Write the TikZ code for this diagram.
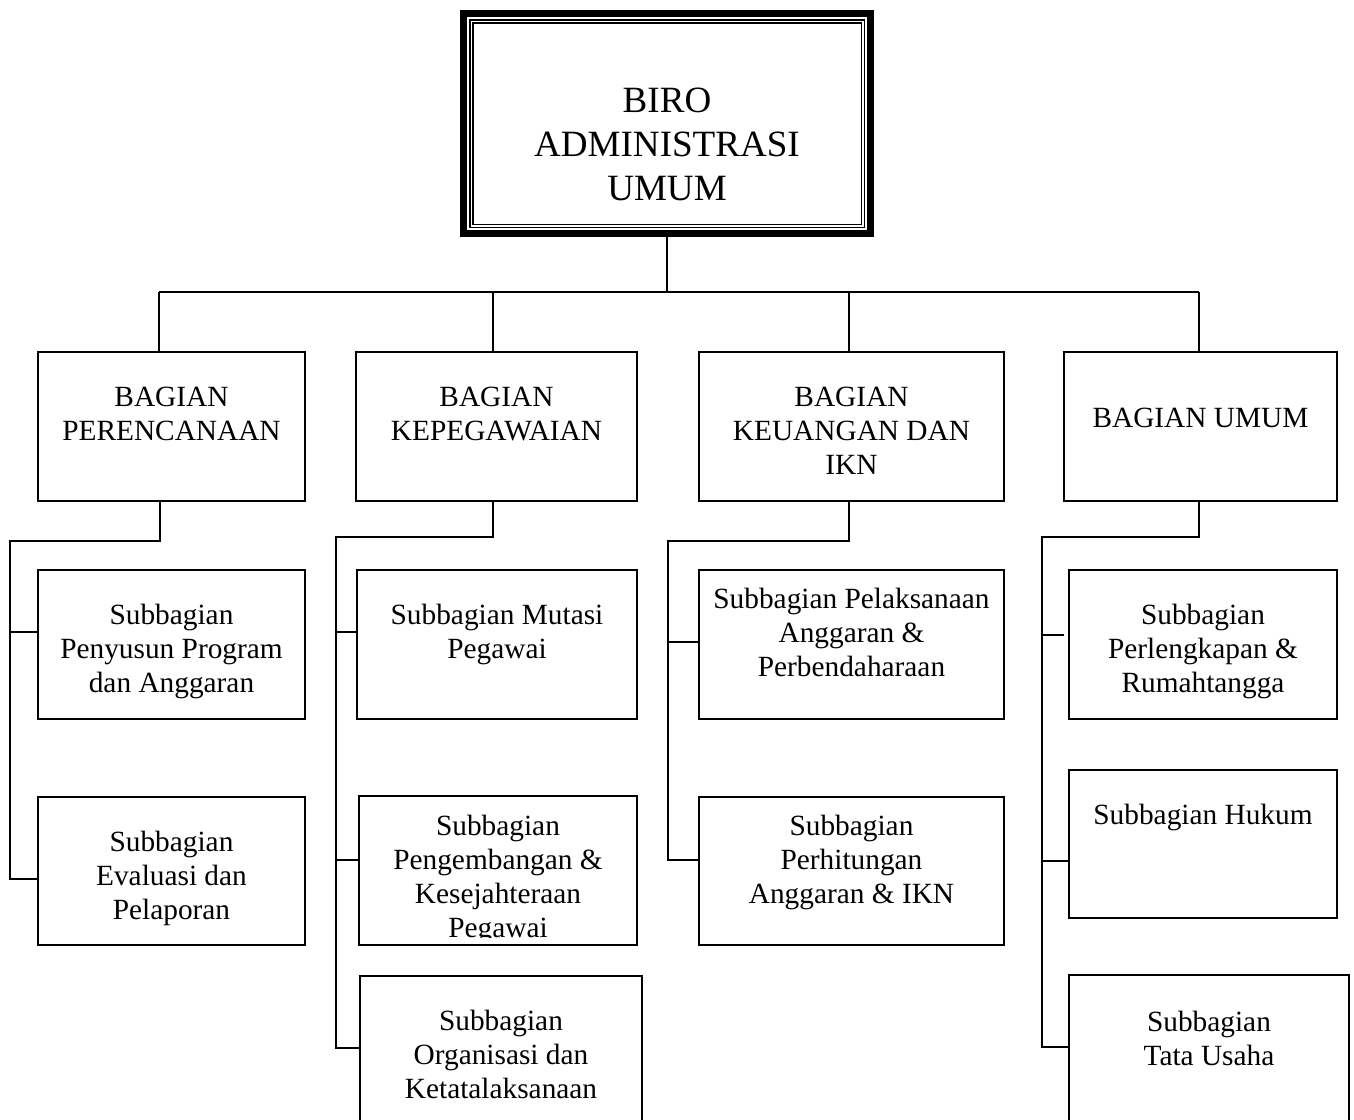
\documentclass[tikz,border=0pt]{standalone}
\usepackage{fontspec}
\setmainfont{Liberation Serif}
\usetikzlibrary{fit,calc}
\begin{document}
\begin{tikzpicture}[x=0.75pt,y=-0.75pt,
  box/.style={draw, line width=1.2pt, inner sep=0pt},
  conn/.style={line width=1.2pt},
  txt/.style={align=center, inner sep=0pt, anchor=north, yshift=-1.5pt, font=\fontsize{22}{25.5}\selectfont},
  toptxt/.style={align=center, inner sep=0pt, anchor=north, yshift=-1.5pt, font=\fontsize{27.8}{33}\selectfont}]
\useasboundingbox (0,0) rectangle (1354,1120);
\clip (0,0) rectangle (1354,1120);
\fill[white] (0,0) rectangle (1354,1120);

% top box
\node[inner sep=0pt, fit={(460,10) (874,237)}] (biro) {};
\draw[line width=5.25pt] (463.5,13.5) rectangle (870.5,233.5);
\draw[line width=1.1pt] (469.8,19.8) rectangle (864.5,227.5);
\draw[line width=1.1pt] (473,23) rectangle (861.5,224.5);
\node[toptxt] (tbiro) at (667,79.2) {\strut BIRO\\ADMINISTRASI\\UMUM};

% bagian boxes
\node[box, fit={(38,352) (305,501)}] (bp) {};
\node[box, fit={(356,352) (637,501)}] (bk) {};
\node[box, fit={(699,352) (1004,501)}] (bku) {};
\node[box, fit={(1064,352) (1337,501)}] (bu) {};
\node[txt] (tbp) at (171.5,380.2) {\strut BAGIAN\\PERENCANAAN};
\node[txt] (tbk) at (496.5,380.2) {\strut BAGIAN\\KEPEGAWAIAN};
\node[txt] (tbku) at (851.5,380.2) {\strut BAGIAN\\KEUANGAN DAN\\IKN};
\node[txt] (tbu) at (1200.5,401.2) {\strut BAGIAN UMUM};

% subbagian boxes
\node[box, fit={(38,570) (305,719)}] (sp1) {};
\node[box, fit={(38,797) (305,945)}] (sp2) {};
\node[box, fit={(357,570) (637,719)}] (sk1) {};
\node[box, fit={(359,796) (637,945)}] (sk2) {};
\node[box, fit={(360,976) (642,1135)}] (sk3) {};
\node[box, fit={(699,570) (1004,719)}] (sku1) {};
\node[box, fit={(699,797) (1004,945)}] (sku2) {};
\node[box, fit={(1069,570) (1337,719)}] (su1) {};
\node[box, fit={(1069,770) (1337,918)}] (su2) {};
\node[box, fit={(1069,975) (1349,1135)}] (su3) {};

\node[txt] (tsp1) at (171.5,598.2) {\strut Subbagian\\Penyusun Program\\dan Anggaran};
\node[txt] (tsp2) at (171.5,825.2) {\strut Subbagian\\Evaluasi dan\\Pelaporan};
\node[txt] (tsk1) at (497,598.2) {\strut Subbagian Mutasi\\Pegawai};
\begin{scope}
\clip (359,796) rectangle (637,937);
\node[txt] (tsk2) at (498,809.2) {\strut Subbagian\\Pengembangan \&\\Kesejahteraan\\Pegawai};
\end{scope}
\node[txt] (tsk3) at (501,1004.2) {\strut Subbagian\\Organisasi dan\\Ketatalaksanaan};
\node[txt] (tsku1) at (851.5,582.2) {\strut Subbagian Pelaksanaan\\Anggaran \&\\Perbendaharaan};
\node[txt] (tsku2) at (851.5,809.2) {\strut Subbagian\\Perhitungan\\Anggaran \& IKN};
\node[txt] (tsu1) at (1203,598.2) {\strut Subbagian\\Perlengkapan \&\\Rumahtangga};
\node[txt] (tsu2) at (1203,798.2) {\strut Subbagian Hukum};
\node[txt] (tsu3) at (1209,1005.2) {\strut Subbagian\\Tata Usaha};

% top connectors
\coordinate (bus) at (667,292);
\coordinate (busL) at (159,292);
\coordinate (busR) at (1199,292);
\coordinate (dk) at (493,292);
\coordinate (dku) at (849,292);
\draw[conn] (biro.south) -- (bus);
\draw[conn] (busL) -- (busR);
\draw[conn] (busL) -- (busL |- bp.north);
\draw[conn] (dk) -- (dk |- bk.north);
\draw[conn] (dku) -- (dku |- bku.north);
\draw[conn] (busR) -- (busR |- bu.north);

% perencanaan
\coordinate (pj) at (10,541);
\coordinate (pa) at (10,632);
\coordinate (pb) at (10,879);
\draw[conn] ($(bp.south)+(-11.5,0)$) |- (pj) -- (pb) -- (pb -| sp2.west);
\draw[conn] (pa) -- (pa -| sp1.west);

% kepegawaian
\coordinate (kj) at (336,537);
\coordinate (ka) at (336,632);
\coordinate (kb) at (336,860);
\coordinate (kc) at (336,1048);
\draw[conn] ($(bk.south)+(-3.5,0)$) |- (kj) -- (kc) -- (kc -| sk3.west);
\draw[conn] (ka) -- (ka -| sk1.west);
\draw[conn] (kb) -- (kb -| sk2.west);

% keuangan
\coordinate (uj) at (668,541);
\coordinate (ua) at (668,642);
\coordinate (ub) at (668,860);
\draw[conn] ($(bku.south)+(-2.5,0)$) |- (uj) -- (ub) -- (ub -| sku2.west);
\draw[conn] (ua) -- (ua -| sku1.west);

% umum
\coordinate (mj) at (1042,537);
\coordinate (ma) at (1042,635);
\coordinate (mb) at (1042,861);
\coordinate (mc) at (1042,1047);
\draw[conn] ($(bu.south)+(-1.5,0)$) |- (mj) -- (mc) -- (mc -| su3.west);
\draw[conn] (ma) -- ($(ma -| su1.west)+(-4,0)$);
\draw[conn] (mb) -- (mb -| su2.west);
\end{tikzpicture}
\end{document}
